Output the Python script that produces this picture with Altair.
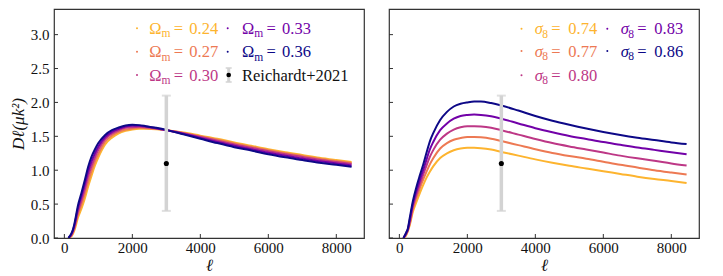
import altair as alt
import pandas as pd

# ---------------- data ----------------
ell = [120, 200, 250, 300, 400, 500, 600, 700, 800, 900, 1000, 1200, 1400, 1600, 1800,
       2000, 2200, 2400, 2700, 3000, 3500, 4000, 4500, 5000, 5500, 6000, 6500, 7000,
       7500, 8000, 8450]

om_labels = ["0.24", "0.27", "0.30", "0.33", "0.36"]
om_024 = [0.0, 0.02, 0.06, 0.12, 0.30, 0.43, 0.58, 0.76, 0.92, 1.07, 1.19, 1.38, 1.48, 1.545, 1.58,
          1.60, 1.61, 1.61, 1.605, 1.59, 1.555, 1.51, 1.465, 1.41, 1.36, 1.31, 1.265, 1.225,
          1.185, 1.15, 1.12]
om_027 = [0.0, 0.03, 0.08, 0.15, 0.35, 0.49, 0.65, 0.83, 0.99, 1.13, 1.24, 1.42, 1.51, 1.565, 1.60,
          1.615, 1.625, 1.62, 1.61, 1.59, 1.55, 1.50, 1.45, 1.395, 1.345, 1.295, 1.25, 1.21,
          1.17, 1.135, 1.105]
om_030 = [0.0, 0.04, 0.09, 0.17, 0.39, 0.55, 0.72, 0.91, 1.06, 1.19, 1.30, 1.46, 1.54, 1.59, 1.625,
          1.635, 1.64, 1.635, 1.615, 1.59, 1.545, 1.49, 1.435, 1.38, 1.33, 1.28, 1.235, 1.195,
          1.155, 1.12, 1.09]
om_033 = [0.0, 0.05, 0.11, 0.20, 0.44, 0.61, 0.79, 0.98, 1.13, 1.25, 1.35, 1.49, 1.565, 1.61, 1.645,
          1.655, 1.655, 1.645, 1.62, 1.59, 1.537, 1.477, 1.418, 1.36, 1.31, 1.258, 1.212, 1.172,
          1.132, 1.10, 1.07]
om_036 = [0.0, 0.06, 0.12, 0.22, 0.48, 0.66, 0.85, 1.05, 1.20, 1.31, 1.40, 1.52, 1.59, 1.63, 1.66,
          1.67, 1.665, 1.65, 1.625, 1.595, 1.53, 1.465, 1.40, 1.34, 1.29, 1.235, 1.19, 1.15,
          1.11, 1.08, 1.05]

s8_labels = ["0.74", "0.77", "0.80", "0.83", "0.86"]
s8_074 = [0.0, 0.04, 0.10, 0.18, 0.39, 0.53, 0.66, 0.78, 0.89, 0.98, 1.06, 1.18, 1.25, 1.295, 1.32,
          1.33, 1.33, 1.325, 1.305, 1.27, 1.215, 1.16, 1.11, 1.065, 1.025, 0.985, 0.945, 0.905,
          0.87, 0.84, 0.81]
s8_077 = [0.0, 0.05, 0.11, 0.20, 0.43, 0.59, 0.73, 0.86, 0.98, 1.09, 1.18, 1.32, 1.40, 1.45, 1.475,
          1.49, 1.49, 1.485, 1.465, 1.43, 1.37, 1.31, 1.255, 1.21, 1.17, 1.125, 1.08, 1.04,
          1.0, 0.965, 0.935]
s8_080 = [0.0, 0.06, 0.12, 0.22, 0.47, 0.64, 0.79, 0.93, 1.07, 1.20, 1.30, 1.45, 1.54, 1.60, 1.635,
          1.65, 1.65, 1.645, 1.625, 1.59, 1.525, 1.46, 1.40, 1.35, 1.305, 1.26, 1.215, 1.175,
          1.14, 1.10, 1.07]
s8_083 = [0.0, 0.07, 0.13, 0.25, 0.51, 0.69, 0.85, 1.0, 1.16, 1.31, 1.42, 1.59, 1.69, 1.76, 1.80,
          1.815, 1.82, 1.815, 1.795, 1.76, 1.69, 1.62, 1.56, 1.505, 1.46, 1.415, 1.375, 1.335,
          1.30, 1.265, 1.235]
s8_086 = [0.0, 0.08, 0.14, 0.28, 0.55, 0.75, 0.92, 1.08, 1.26, 1.43, 1.55, 1.74, 1.86, 1.94, 1.98,
          2.0, 2.012, 2.012, 1.99, 1.955, 1.88, 1.80, 1.73, 1.67, 1.615, 1.565, 1.52, 1.48,
          1.445, 1.41, 1.385]

colors = ["#fdb42f", "#ed7953", "#bd3786", "#7201a8", "#0d0887"]

obs_ell = [3000]
obs_D = [1.1]
obs_lo = [0.4]
obs_hi = [2.1]
obs_label = "Reichardt+2021"

x_ticks = [0, 2000, 4000, 6000, 8000]
y_ticks = [0.0, 0.5, 1.0, 1.5, 2.0, 2.5, 3.0]

# ---------------- layout / style ----------------
W, H = 310, 229
XDOM = [-305, 8815]
YDOM = [0, 3.378]
FONT = "Liberation Serif, Times New Roman, serif"
FRAME = "#333333"


def long_df(series, labels):
    rows = []
    for lab, vals in zip(labels, series):
        for l, v in zip(ell, vals):
            rows.append({"ell": l, "D": v, "label": lab})
    return pd.DataFrame(rows)


one = pd.DataFrame({"a": [0]})


def txt(s, x, y, color, size=16, style="normal", align="left", baseline="alphabetic"):
    return alt.Chart(one).mark_text(
        font=FONT, fontSize=size, fontStyle=style, align=align, baseline=baseline, color=color
    ).encode(x=alt.value(x), y=alt.value(y), text=alt.value(s))


def dot(x, y, color):
    return alt.Chart(one).mark_circle(size=4, color=color, opacity=1).encode(
        x=alt.value(x), y=alt.value(y))


def legend_entry(sym, sub, val, color, mx, tx, ry, sym_style, eq_off, num_off, sub_off):
    base = ry + 5.5
    return [
        dot(mx, ry, color),
        txt(sym, tx, base, color, 16.5, sym_style),
        txt(sub, tx + sub_off, base + 3.5, color, 11.5),
        txt("=", tx + eq_off, base, color, 16.5),
        txt(val, tx + num_off, base, color, 16.5),
    ]


def panel(series, labels, sym, sym_style, sub, legend_pos, eq_off, num_off, sub_off,
          show_y, obs_legend=None):
    xs = alt.Scale(domain=XDOM, nice=False, zero=False)
    ys = alt.Scale(domain=YDOM, nice=False, zero=False)
    xaxis = alt.Axis(values=x_ticks, format="d", title="ℓ", ticks=False, tickSize=0,
                     domain=False, grid=False, labelPadding=2, titlePadding=2,
                     titleFontStyle="italic", titleFontSize=17, titleFontWeight="normal")
    yaxis = alt.Axis(values=y_ticks, format=".1f", title="Dℓ(μk²)", ticks=False, tickSize=0,
                     domain=False, grid=False, labelPadding=5, titlePadding=3,
                     titleFontStyle="italic", titleFontSize=17, titleFontWeight="normal")
    X = lambda f: alt.X(f, type="quantitative", scale=xs, axis=xaxis)
    Y = lambda f: alt.Y(f, type="quantitative", scale=ys, axis=yaxis if show_y else None)

    df = long_df(series, labels)
    lines = alt.Chart(df).mark_line(strokeWidth=2, clip=True, interpolate="monotone").encode(
        x=X("ell"), y=Y("D"),
        color=alt.Color("label:N", scale=alt.Scale(domain=labels, range=colors), legend=None),
    )
    obs = pd.DataFrame({"ell": obs_ell, "D": obs_D, "lo": obs_lo, "hi": obs_hi})
    bar = alt.Chart(obs).mark_rule(color="#d3d3d3", strokeWidth=3.5).encode(
        x=X("ell"), y=Y("lo"), y2="hi:Q")
    cap_lo = alt.Chart(obs).mark_tick(color="#d3d3d3", thickness=2, size=9,
                                      orient="horizontal").encode(x=X("ell"), y=Y("lo"))
    cap_hi = alt.Chart(obs).mark_tick(color="#d3d3d3", thickness=2, size=9,
                                      orient="horizontal").encode(x=X("ell"), y=Y("hi"))
    pt = alt.Chart(obs).mark_circle(color="black", size=26, opacity=1).encode(
        x=X("ell"), y=Y("D"))

    ytk = alt.Chart(pd.DataFrame({"v": y_ticks})).mark_rule(color=FRAME, strokeWidth=1).encode(
        y=Y("v"), x=alt.value(0), x2=alt.value(4))
    xtk = alt.Chart(pd.DataFrame({"v": x_ticks})).mark_rule(color=FRAME, strokeWidth=1).encode(
        x=X("v"), y=alt.value(H), y2=alt.value(H - 4))

    layers = [lines, bar, cap_lo, cap_hi, pt, ytk, xtk]
    for (lab, col, (mx, tx, ry)) in zip(labels, colors, legend_pos):
        layers += legend_entry(sym, sub, lab, col, mx, tx, ry, sym_style, eq_off, num_off, sub_off)
    if obs_legend is not None:
        mx, tx, ry = obs_legend
        layers += [
            alt.Chart(one).mark_rule(color="#d3d3d3", strokeWidth=3).encode(
                x=alt.value(mx), y=alt.value(ry - 7), y2=alt.value(ry + 7)),
            alt.Chart(one).mark_rule(color="#d3d3d3", strokeWidth=1.5).encode(
                x=alt.value(mx - 3), x2=alt.value(mx + 3), y=alt.value(ry - 7)),
            alt.Chart(one).mark_rule(color="#d3d3d3", strokeWidth=1.5).encode(
                x=alt.value(mx - 3), x2=alt.value(mx + 3), y=alt.value(ry + 7)),
            alt.Chart(one).mark_circle(color="black", size=22, opacity=1).encode(
                x=alt.value(mx), y=alt.value(ry)),
            txt(obs_label, tx, ry + 5.5, "#111111", 16.5),
        ]
    return alt.layer(*layers).properties(width=W, height=H)


# legend positions (marker x, text x, row y) relative to each panel
left_pos = [(83, 95.3, 19.3), (83, 95.3, 42.7), (83, 95.3, 66.0),
            (173.7, 188, 19.3), (173.7, 188, 42.7)]
right_pos = [(132.5, 145.7, 19.7), (132.5, 145.7, 42.0), (132.5, 145.7, 66.3),
             (218.3, 231.7, 19.7), (218.3, 231.7, 42.0)]

left = panel([om_024, om_027, om_030, om_033, om_036], om_labels, "Ω", "normal", "m",
             left_pos, 24.4, 40.0, 12.3, True, obs_legend=(174.7, 188, 66.0))
right = panel([s8_074, s8_077, s8_080, s8_083, s8_086], s8_labels, "σ", "italic", "8",
              right_pos, 16.6, 33.6, 7.5, False)

chart = alt.hconcat(left, right, spacing=22).properties(
    padding={"left": 0, "top": 0, "right": 5, "bottom": 0}
).configure_view(stroke=FRAME, strokeWidth=1.2).configure_axis(
    labelFont=FONT, labelFontSize=15, labelColor="#111111",
    titleFont=FONT, titleColor="#111111"
)

chart.save("out.html", embed_options={"renderer": "svg", "actions": False})
